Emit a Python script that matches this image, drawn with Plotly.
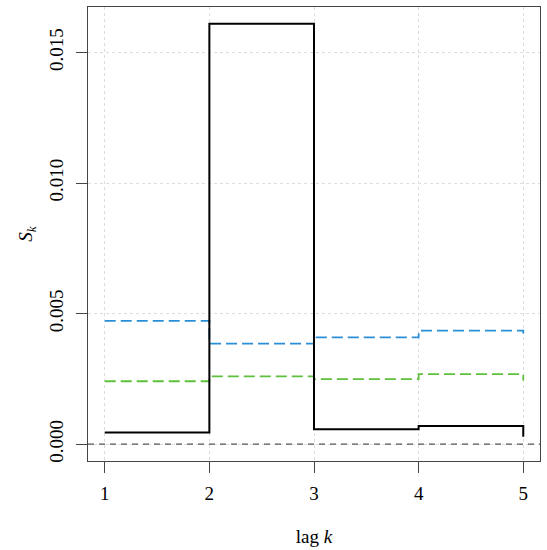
import plotly.graph_objects as go

lags = [1, 2, 3, 4, 5]
s_obs = [0.00045, 0.0161, 0.00057, 0.0007, 0.00028]
s_blue = [0.00472, 0.00385, 0.00409, 0.00435, 0.00424]
s_green = [0.00241, 0.0026, 0.00249, 0.00268, 0.00244]
x_ticks = [1, 2, 3, 4, 5]
y_ticks = [0.0, 0.005, 0.010, 0.015]
y_tick_labels = ["0.000", "0.005", "0.010", "0.015"]

FONT = "Liberation Serif"

fig = go.Figure()

fig.add_trace(go.Scatter(x=lags, y=s_blue, mode="lines", line_shape="hv",
                         line=dict(color="#2A8FD8", width=1.8, dash="11px,5px"),
                         showlegend=False))
fig.add_trace(go.Scatter(x=lags, y=s_green, mode="lines", line_shape="hv",
                         line=dict(color="#5DC13B", width=1.8, dash="11px,5px"),
                         showlegend=False))
fig.add_trace(go.Scatter(x=lags, y=s_obs, mode="lines", line_shape="hv",
                         line=dict(color="black", width=2),
                         showlegend=False))

fig.add_hline(y=0, line=dict(color="#555555", width=1.2, dash="6px,5px"))

xmin, xmax = min(lags), max(lags)
xpad = 0.04 * (xmax - xmin)
allv = s_obs + s_blue + s_green + [0.0]
ymin, ymax = min(allv), max(allv)
ypad = 0.04 * (ymax - ymin)

fig.update_layout(
    width=547, height=550,
    margin=dict(l=88, r=7, t=7, b=89),
    paper_bgcolor="white", plot_bgcolor="white",
    font=dict(family=FONT, size=19, color="black"),
    xaxis=dict(range=[xmin - xpad, xmax + xpad], tickvals=x_ticks,
               automargin=False,
               showgrid=True, gridcolor="#dddddd", griddash="dot", gridwidth=1,
               showline=True, linecolor="#444444", linewidth=1, mirror=True,
               ticks="outside", ticklen=11, tickcolor="#444444",
               ticklabelstandoff=4,
               zeroline=False,
               title=dict(text="lag <i>k</i>", standoff=26, font=dict(size=19)),
               tickfont=dict(size=19)),
    yaxis=dict(range=[ymin - ypad, ymax + ypad], tickvals=y_ticks,
               ticktext=y_tick_labels, tickangle=-90,
               automargin=False,
               showgrid=True, gridcolor="#dddddd", griddash="dot", gridwidth=1,
               showline=True, linecolor="#444444", linewidth=1, mirror=True,
               ticks="outside", ticklen=11, tickcolor="#444444",
               ticklabelstandoff=5,
               zeroline=False,
               title=dict(text="<i>S</i><sub><i>k</i></sub>", standoff=8, font=dict(size=19)),
               tickfont=dict(size=19)),
)

fig.write_html("out.html", config={"displayModeBar": False},
               post_script="document.body.style.margin='0';document.body.style.overflow='hidden';")
